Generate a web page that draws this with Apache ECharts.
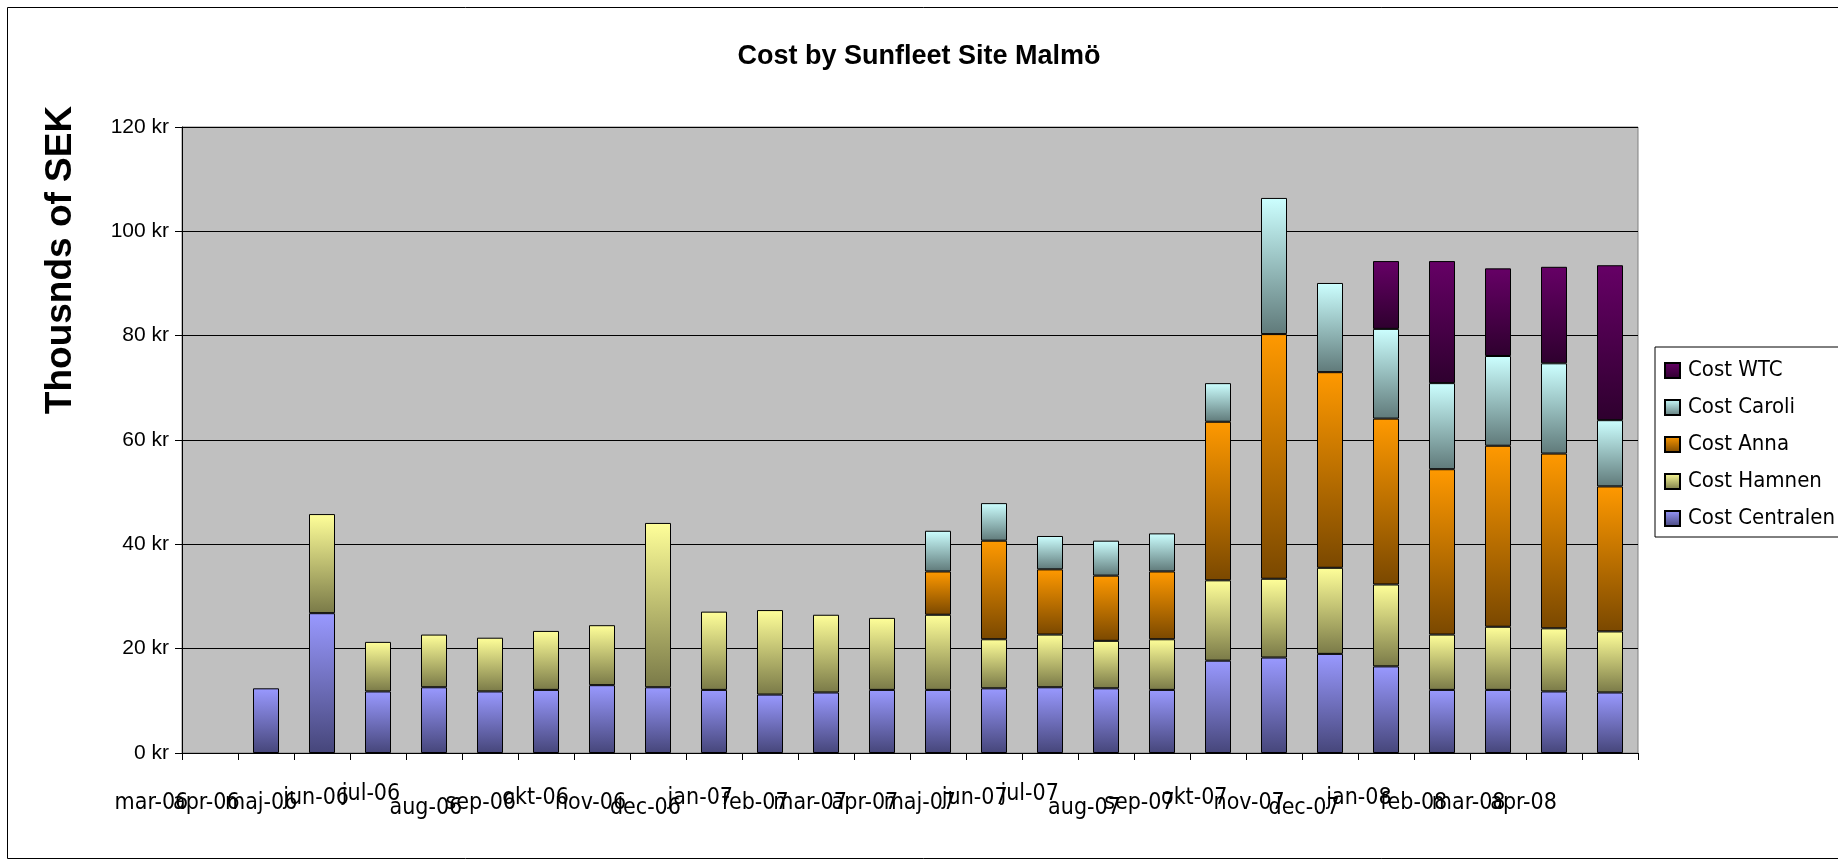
<!DOCTYPE html>
<html>
<head>
<meta charset="utf-8">
<script src="https://cdn.jsdelivr.net/npm/echarts@6/dist/echarts.min.js"></script>
<style>
  html, body { margin: 0; padding: 0; background: #fff; }
  #chart { width: 1838px; height: 865px; }
</style>
</head>
<body>
<div id="chart"></div>
<script>
const months = ['mar-06', 'apr-06', 'maj-06', 'jun-06', 'jul-06', 'aug-06', 'sep-06', 'okt-06', 'nov-06',
  'dec-06', 'jan-07', 'feb-07', 'mar-07', 'apr-07', 'maj-07', 'jun-07', 'jul-07', 'aug-07', 'sep-07',
  'okt-07', 'nov-07', 'dec-07', 'jan-08', 'feb-08', 'mar-08', 'apr-08'];

// thousands of SEK per site, one value per month (null = site not running yet)
const costCentralen = [null, 12.4, 26.8, 11.8, 12.6, 11.8, 12.1, 13.0, 12.6, 12.1, 11.2, 11.6, 12.1,
  12.1, 12.4, 12.6, 12.4, 12.1, 17.7, 18.3, 19.0, 16.6, 12.1, 12.1, 11.8, 11.6];
const costHamnen = [null, null, 19.0, 9.5, 10.1, 10.3, 11.3, 11.5, 31.5, 15.0, 16.2, 14.9, 13.8,
  14.4, 9.4, 10.1, 9.1, 9.7, 15.4, 15.1, 16.5, 15.7, 10.6, 12.1, 12.1, 11.7];
const costAnna = [null, null, null, null, null, null, null, null, null, null, null, null, null,
  8.3, 18.9, 12.5, 12.5, 13.0, 30.4, 46.9, 37.5, 31.8, 31.7, 34.7, 33.5, 27.8];
const costCaroli = [null, null, null, null, null, null, null, null, null, null, null, null, null,
  7.8, 7.2, 6.4, 6.7, 7.3, 7.4, 26.1, 17.1, 17.2, 16.5, 17.2, 17.3, 12.7];
const costWTC = [null, null, null, null, null, null, null, null, null, null, null, null, null,
  null, null, null, null, null, null, null, null, 13.0, 23.4, 16.8, 18.5, 29.7];

const yTicks = { min: 0, max: 120, interval: 20 };

// the month labels under the axis sit at uneven heights in the original
const raisedLabels = ['jun-06', 'okt-06', 'jan-07', 'jun-07', 'okt-07', 'jan-08'];
const raisedMoreLabels = ['jul-06', 'jul-07'];
const loweredLabels = ['aug-06', 'dec-06', 'aug-07', 'dec-07'];

const font = '"Liberation Sans", Arial, sans-serif';
const narrow = '"Liberation Sans Narrow", "Arial Narrow", "DejaVu Sans Condensed", sans-serif';

function grad(top, bottom) {
  return new echarts.graphic.LinearGradient(0, 0, 0, 1, [
    { offset: 0, color: top },
    { offset: 1, color: bottom }
  ]);
}

function barSeries(name, data, top, bottom) {
  return {
    name: name,
    type: 'bar',
    stack: 'cost',
    barWidth: 26,
    data: data,
    itemStyle: {
      color: grad(top, bottom),
      borderColor: '#000',
      borderWidth: 1
    },
    animation: false
  };
}

const chart = echarts.init(document.getElementById('chart'), null, { renderer: 'canvas' });

const option = {
  backgroundColor: '#fff',
  textStyle: { fontFamily: font },
  title: {
    text: 'Cost by Sunfleet Site Malmö',
    left: 'center',
    top: 38,
    textStyle: { fontSize: 27, fontWeight: 'bold', color: '#000', fontFamily: font }
  },
  legend: {
    orient: 'vertical',
    left: 1655,
    top: 347,
    padding: [12, 10, 7, 9],
    itemWidth: 15,
    itemHeight: 15,
    itemGap: 14,
    borderColor: '#000',
    borderWidth: 1,
    backgroundColor: '#fff',
    icon: 'rect',
    textStyle: { fontSize: 22, lineHeight: 23, color: '#000', fontFamily: narrow, padding: [0, 0, 0, 3] },
    data: ['Cost WTC', 'Cost Caroli', 'Cost Anna', 'Cost Hamnen', 'Cost Centralen']
  },
  graphic: [
    {
      type: 'rect',
      silent: true,
      z: -10,
      shape: { x: 7.5, y: 7.5, width: 1900, height: 851 },
      style: { fill: 'none', stroke: '#000', lineWidth: 1 }
    },
    {
      // y axis title, placed like the original (above the axis middle)
      type: 'text',
      x: 61,
      y: 260,
      rotation: Math.PI / 2,
      silent: true,
      style: {
        text: 'Thousnds of SEK',
        fontSize: 37,
        fontWeight: 'bold',
        fontFamily: font,
        fill: '#000',
        align: 'center',
        verticalAlign: 'middle'
      }
    }
  ],
  grid: [
    {
      left: 182, right: 200, top: 127, bottom: 112,
      show: true,
      backgroundColor: '#c0c0c0',
      borderColor: '#808080',
      borderWidth: 1
    },
    // second, invisible grid only carries the shifted month labels
    { left: 124, right: 287, top: 127, bottom: 112 }
  ],
  xAxis: [
    {
      type: 'category',
      gridIndex: 0,
      data: months,
      axisLine: { lineStyle: { color: '#000', width: 1 } },
      axisTick: { show: true, length: 7, lineStyle: { color: '#000' } },
      axisLabel: { show: false }
    },
    {
      type: 'category',
      gridIndex: 1,
      data: months,
      axisLine: { show: false },
      axisTick: { show: false },
      axisLabel: {
        interval: 0,
        margin: 31,
        color: '#000',
        fontSize: 23,
        fontFamily: narrow,
        formatter: function (v) {
          if (raisedMoreLabels.indexOf(v) >= 0) return '{r2|' + v + '}';
          if (raisedLabels.indexOf(v) >= 0) return '{r1|' + v + '}';
          if (loweredLabels.indexOf(v) >= 0) return '{lo|' + v + '}';
          return '{n|' + v + '}';
        },
        rich: {
          n: { fontSize: 23, lineHeight: 38, fontFamily: narrow, color: '#000' },
          r1: { fontSize: 23, lineHeight: 28, fontFamily: narrow, color: '#000' },
          r2: { fontSize: 23, lineHeight: 20, fontFamily: narrow, color: '#000' },
          lo: { fontSize: 23, lineHeight: 48, fontFamily: narrow, color: '#000' }
        }
      }
    }
  ],
  yAxis: [
    {
      type: 'value',
      gridIndex: 0,
      min: yTicks.min,
      max: yTicks.max,
      interval: yTicks.interval,
      axisLine: { show: true, lineStyle: { color: '#000' } },
      axisTick: { show: true, length: 7, lineStyle: { color: '#000' } },
      splitLine: { lineStyle: { color: '#000', width: 1 } },
      axisLabel: {
        margin: 13,
        color: '#000',
        fontSize: 21,
        fontFamily: font,
        formatter: '{value} kr'
      }
    },
    {
      type: 'value',
      gridIndex: 1,
      show: false
    }
  ],
  series: [
    barSeries('Cost Centralen', costCentralen, '#9999ff', '#46467a'),
    barSeries('Cost Hamnen', costHamnen, '#ffff99', '#7a7a48'),
    barSeries('Cost Anna', costAnna, '#ff9900', '#7a4800'),
    barSeries('Cost Caroli', costCaroli, '#ccffff', '#607a7a'),
    barSeries('Cost WTC', costWTC, '#660066', '#2e002e')
  ]
};

chart.setOption(option);
</script>
</body>
</html>
